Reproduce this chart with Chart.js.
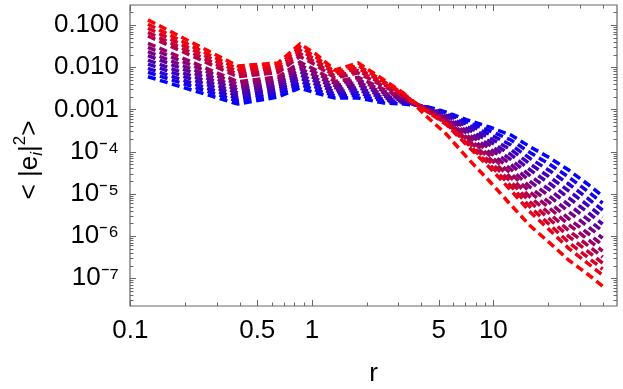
<!DOCTYPE html>
<html><head><meta charset="utf-8">
<script src="https://cdn.jsdelivr.net/npm/chart.js@4.4.1/dist/chart.umd.min.js"></script>
<style>html,body{margin:0;padding:0;background:#fff}canvas{display:block}</style>
</head><body>
<canvas id="c" width="623" height="389"></canvas>
<script>
// r positions of the data points
const rValues = [0.125, 0.39, 0.65, 0.86, 1.05, 1.34, 1.8, 2.5, 3.2, 4.2, 5.5, 7.2, 9.5, 12.5, 16, 20.5, 26, 33, 40];

// <|e_i|^2> for each curve, red (first) to blue (last)
const curve1  = [0.132, 0.0107, 0.0126, 0.0355, 0.0206, 0.00859, 0.0126, 0.00498, 0.00245, 7.36e-4, 2.61e-4, 7.05e-5, 2.01e-5, 5.42e-6, 1.72e-6, 6.81e-7, 2.69e-7, 1.26e-7, 6.52e-8];
const curve2  = [0.104, 0.00912, 0.0109, 0.0296, 0.0175, 0.00766, 0.0109, 0.00453, 0.00234, 9.68e-4, 4.38e-4, 1.38e-4, 4.25e-5, 1.21e-5, 3.66e-6, 1.36e-6, 5.12e-7, 2.29e-7, 1.19e-7];
const curve3  = [0.0837, 0.00789, 0.00957, 0.0250, 0.0151, 0.00687, 0.00951, 0.00414, 0.00224, 9.86e-4, 4.60e-4, 1.53e-4, 5.02e-5, 1.52e-5, 4.80e-6, 1.83e-6, 7.08e-7, 3.18e-7, 1.65e-7];
const curve4  = [0.0671, 0.00681, 0.00839, 0.0211, 0.0129, 0.00617, 0.00830, 0.00379, 0.00215, 1.00e-3, 4.85e-4, 1.71e-4, 5.94e-5, 1.91e-5, 6.30e-6, 2.47e-6, 9.82e-7, 4.42e-7, 2.29e-7];
const curve5  = [0.0550, 0.00594, 0.00745, 0.0180, 0.0113, 0.00558, 0.00733, 0.00349, 0.00207, 1.02e-3, 5.11e-4, 1.90e-4, 7.00e-5, 2.40e-5, 8.22e-6, 3.33e-6, 1.35e-6, 6.11e-7, 3.17e-7];
const curve6  = [0.0369, 0.00455, 0.00586, 0.0132, 0.00857, 0.00458, 0.00573, 0.00297, 0.00191, 1.035e-3, 5.38e-4, 2.11e-4, 8.28e-5, 3.03e-5, 1.08e-5, 4.50e-6, 1.87e-6, 8.49e-7, 4.41e-7];
const curve7  = [0.0297, 0.00394, 0.00515, 0.0112, 0.00740, 0.00412, 0.00501, 0.00272, 0.00183, 1.05e-3, 5.68e-4, 2.35e-4, 9.79e-5, 3.81e-5, 1.42e-5, 6.08e-6, 2.59e-6, 1.18e-6, 6.12e-7];
const curve8  = [0.0233, 0.00335, 0.00446, 0.00927, 0.00625, 0.00366, 0.00433, 0.00247, 0.00175, 1.07e-3, 6.03e-4, 2.66e-4, 1.19e-4, 4.97e-5, 1.94e-5, 8.61e-6, 3.78e-6, 1.72e-6, 8.93e-7];
const curve9  = [0.0188, 0.00290, 0.00392, 0.00783, 0.00540, 0.00328, 0.00378, 0.00226, 0.00168, 1.09e-3, 6.40e-4, 3.01e-4, 1.445e-4, 6.49e-5, 2.65e-5, 1.22e-5, 5.51e-6, 2.52e-6, 1.31e-6];
const curve10 = [0.0148, 0.00247, 0.00340, 0.00653, 0.00459, 0.00292, 0.00327, 0.00206, 0.00160, 1.11e-3, 6.81e-4, 3.41e-4, 1.76e-4, 8.49e-5, 3.64e-5, 1.74e-5, 8.05e-6, 3.71e-6, 1.92e-6];
const curve11 = [0.0119, 0.00214, 0.00298, 0.00551, 0.00394, 0.00262, 0.00286, 0.00188, 0.00153, 1.135e-3, 7.23e-4, 3.86e-4, 2.13e-4, 1.11e-4, 5.00e-5, 2.47e-5, 1.18e-5, 5.43e-6, 2.82e-6];
const curve12 = [0.00942, 0.00182, 0.00259, 0.00458, 0.00336, 0.00233, 0.00247, 0.00171, 0.00147, 1.16e-3, 7.67e-4, 4.38e-4, 2.59e-4, 1.445e-4, 6.82e-5, 3.49e-5, 1.71e-5, 7.93e-6, 4.11e-6];
const curve13 = [0.00759, 0.00158, 0.00228, 0.00387, 0.00289, 0.00210, 0.00216, 0.00157, 0.00141, 1.18e-3, 8.17e-4, 4.95e-4, 3.15e-4, 1.89e-4, 9.38e-5, 4.97e-5, 2.50e-5, 1.16e-5, 6.04e-6];
const curve14 = [0.00596, 0.00134, 0.00197, 0.00321, 0.00245, 0.00186, 0.00186, 0.00142, 0.00134, 1.20e-3, 8.67e-4, 5.61e-4, 3.83e-4, 2.47e-4, 1.29e-4, 7.05e-5, 3.66e-5, 1.71e-5, 8.85e-6];

const curves = [curve1, curve2, curve3, curve4, curve5, curve6, curve7, curve8, curve9, curve10, curve11, curve12, curve13, curve14];

const xTickValues = [0.1, 0.5, 1, 5, 10];
const xTickLabels = ["0.1", "0.5", "1", "5", "10"];
const yTickValues = [1e-7, 1e-6, 1e-5, 1e-4, 0.001, 0.01, 0.1];
const yTickLabels = ["10\u207B\u2077", "10\u207B\u2076", "10\u207B\u2075", "10\u207B\u2074", "0.001", "0.010", "0.100"];

const FONT = '"Liberation Sans", Arial, Helvetica, sans-serif';

function isMajor(v, list) { return list.some(t => Math.abs(v - t) / t < 1e-9); }

const framePlugin = {
  id: 'mmaFrame',
  afterDatasetsDraw(chart) {
    const {ctx, chartArea: a, scales: {x, y}} = chart;
    ctx.save();
    ctx.strokeStyle = '#666';
    ctx.lineWidth = 1.2;
    ctx.beginPath();
    ctx.rect(a.left, a.top, a.right - a.left, a.bottom - a.top);
    ctx.stroke();
    ctx.lineWidth = 1;
    ctx.beginPath();
    for (let e = -2; e <= 2; e++) for (let m = 1; m <= 9; m++) {
      const v = m * Math.pow(10, e);
      if (v < x.min || v > x.max) continue;
      const px = Math.round(x.getPixelForValue(v)) + 0.5;
      const len = isMajor(v, xTickValues) ? 6 : 3.5;
      ctx.moveTo(px, a.bottom); ctx.lineTo(px, a.bottom - len);
      ctx.moveTo(px, a.top); ctx.lineTo(px, a.top + len);
    }
    for (let e = -9; e <= 0; e++) for (let m = 1; m <= 9; m++) {
      const v = m * Math.pow(10, e);
      if (v < y.min || v > y.max) continue;
      const py = Math.round(y.getPixelForValue(v)) + 0.5;
      const len = isMajor(v, yTickValues) ? 6 : 3.5;
      ctx.moveTo(a.left, py); ctx.lineTo(a.left + len, py);
      ctx.moveTo(a.right, py); ctx.lineTo(a.right - len, py);
    }
    ctx.stroke();
    ctx.restore();
  },
  afterDraw(chart) {
    const ctx = chart.ctx;
    ctx.save();
    ctx.translate(37, 160);
    ctx.rotate(-Math.PI / 2);
    ctx.fillStyle = '#000';
    ctx.textBaseline = 'alphabetic';
    const big = '26px ' + FONT, small = '17px ' + FONT, smallIt = 'italic 17px ' + FONT;
    const parts = [
      {t: '< |e', f: big, dy: 0},
      {t: 'i', f: smallIt, dy: 5},
      {t: '|', f: big, dy: 0},
      {t: '2', f: small, dy: -12},
      {t: '>', f: big, dy: 0}
    ];
    let total = 0;
    parts.forEach(p => { ctx.font = p.f; p.w = ctx.measureText(p.t).width; total += p.w; });
    let cx = -total / 2;
    parts.forEach(p => { ctx.font = p.f; ctx.fillText(p.t, cx, p.dy); cx += p.w; });
    ctx.restore();
  }
};

const datasets = curves.map((vals, k) => {
  const t = k / (curves.length - 1);
  const col = 'rgb(' + Math.round(255 * (1 - t)) + ',0,' + Math.round(255 * t) + ')';
  return {
    data: rValues.map((r, i) => ({x: r, y: vals[i]})),
    showLine: true,
    borderColor: col,
    backgroundColor: col,
    borderWidth: 3.5,
    borderDash: [8, 4.5],
    borderCapStyle: 'butt',
    borderJoinStyle: 'miter',
    pointRadius: 0,
    pointHoverRadius: 0,
    tension: 0,
    fill: false
  };
});

new Chart(document.getElementById('c').getContext('2d'), {
  type: 'scatter',
  data: {datasets},
  options: {
    responsive: false,
    animation: false,
    devicePixelRatio: 1,
    layout: {padding: {top: 5, right: 6, left: 0, bottom: 0}},
    plugins: {legend: {display: false}, tooltip: {enabled: false}},
    scales: {
      x: {
        type: 'logarithmic', position: 'bottom', min: 0.0995, max: 48, bounds: 'data',
        grid: {display: false, drawTicks: false}, border: {display: false},
        afterBuildTicks: s => { s.ticks = xTickValues.map(v => ({value: v})); },
        afterFit: s => { s.height = 83; s.paddingLeft = 0; s.paddingRight = 0; },
        ticks: {
          autoSkip: false, maxRotation: 0, padding: 9, color: '#000',
          font: {family: FONT, size: 26},
          callback: (v, i) => xTickLabels[i]
        },
        title: {display: true, text: 'r', color: '#000', font: {family: FONT, size: 26}, padding: {top: 0, bottom: 0}}
      },
      y: {
        type: 'logarithmic', position: 'left', min: 2.2e-8, max: 0.298, bounds: 'data',
        grid: {display: false, drawTicks: false}, border: {display: false},
        afterBuildTicks: s => { s.ticks = yTickValues.map(v => ({value: v})); },
        afterFit: s => { s.width = 130; s.paddingTop = 0; s.paddingBottom = 0; },
        ticks: {
          autoSkip: false, padding: 11, color: '#000',
          font: {family: FONT, size: 26},
          callback: (v, i) => yTickLabels[i]
        }
      }
    }
  },
  plugins: [framePlugin]
});
</script>
</body></html>
